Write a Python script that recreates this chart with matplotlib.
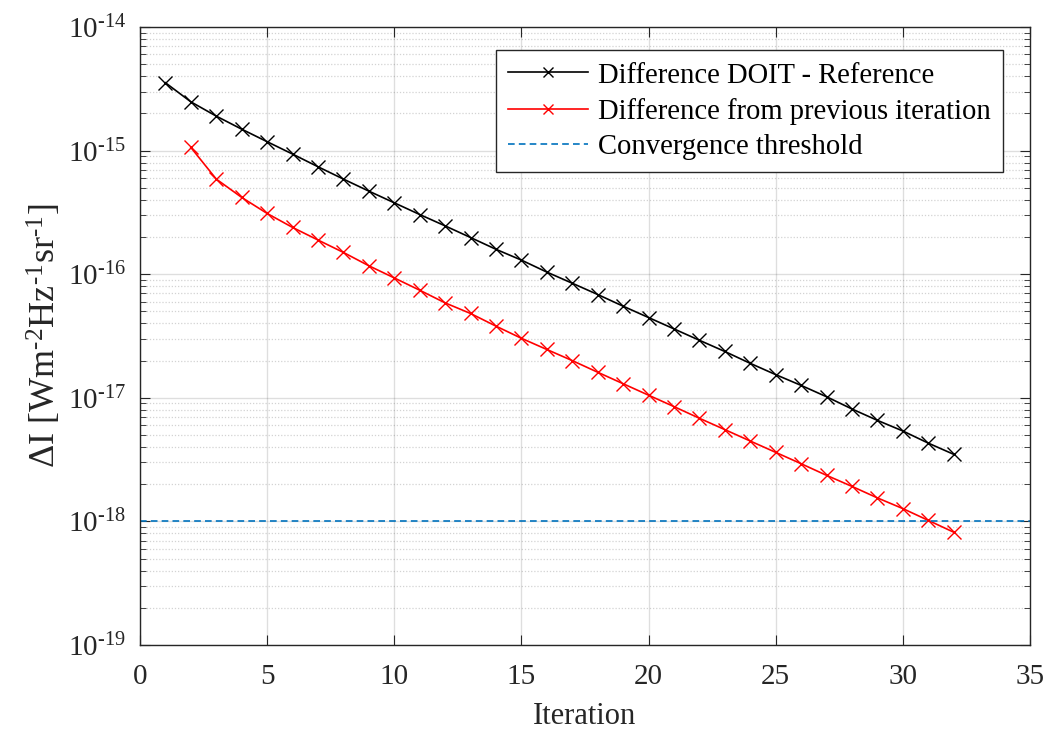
import numpy as np
import matplotlib
matplotlib.use("Agg")
import matplotlib.pyplot as plt
from matplotlib.ticker import LogLocator, MultipleLocator, NullFormatter

plt.rcParams['font.family'] = ['Liberation Serif', 'DejaVu Serif']
plt.rcParams['mathtext.fontset'] = 'custom'
plt.rcParams['mathtext.rm'] = 'Liberation Serif'
plt.rcParams['mathtext.it'] = 'Liberation Serif:italic'
plt.rcParams['mathtext.default'] = 'regular'

# values
iter_ref = list(range(1, 33))
diff_ref = [3.54e-15, 2.48e-15, 1.90e-15, 1.49e-15, 1.18e-15, 9.37e-16, 7.40e-16, 5.88e-16,
            4.70e-16, 3.78e-16, 3.04e-16, 2.46e-16, 1.98e-16, 1.59e-16, 1.30e-16, 1.04e-16,
            8.45e-17, 6.85e-17, 5.51e-17, 4.46e-17, 3.61e-17, 2.92e-17, 2.37e-17, 1.90e-17,
            1.54e-17, 1.26e-17, 1.02e-17, 8.12e-18, 6.57e-18, 5.39e-18, 4.30e-18, 3.49e-18]

iter_prev = list(range(2, 33))
diff_prev = [1.06e-15, 5.88e-16, 4.18e-16, 3.10e-16, 2.39e-16, 1.89e-16, 1.50e-16, 1.17e-16,
             9.33e-17, 7.42e-17, 5.86e-17, 4.81e-17, 3.80e-17, 3.03e-17, 2.46e-17, 2.00e-17,
             1.61e-17, 1.30e-17, 1.05e-17, 8.49e-18, 6.83e-18, 5.53e-18, 4.47e-18, 3.62e-18,
             2.93e-18, 2.36e-18, 1.92e-18, 1.55e-18, 1.27e-18, 1.02e-18, 8.18e-19]

threshold = 1e-18

y_exps = [-19, -18, -17, -16, -15, -14]
HY = '\u2010'  # hyphen, as in the reference exponents

fig = plt.figure(figsize=(10.51, 7.33), dpi=100)
ax = fig.add_axes([0.1332, 0.12, 0.8468, 0.8432])

ax.semilogy(iter_ref, diff_ref, color='black', marker='x', markersize=10, lw=1.2,
            label='Difference DOIT - Reference')
ax.semilogy(iter_prev, diff_prev, color='red', marker='x', markersize=10, lw=1.2,
            label='Difference from previous iteration')
ax.axhline(threshold, color='#0072BD', linestyle='--', lw=1.2, dashes=(4, 2.5),
           label='Convergence threshold')

ax.set_xlim(0, 35)
ax.set_ylim(1e-19, 1e-14)
ax.xaxis.set_major_locator(MultipleLocator(5))
ax.set_yticks([10.0 ** e for e in y_exps])
ax.set_yticklabels([f'$10^{{{HY}{abs(e)}}}$' for e in y_exps])
ax.yaxis.set_minor_locator(LogLocator(base=10, subs=np.arange(2, 10), numticks=20))
ax.yaxis.set_minor_formatter(NullFormatter())

ax.grid(True, which='major', color='#262626', alpha=0.15, lw=1.0, linestyle='-')
ax.grid(True, which='minor', axis='y', color='#262626', alpha=0.2, lw=0.9, linestyle=(0, (1, 1.5)))

ax.tick_params(which='both', direction='in', top=True, right=True, colors='#262626',
               labelcolor='#262626', labelsize=21)
ax.tick_params(which='major', length=7)
ax.tick_params(which='minor', length=4)
ax.tick_params(axis='x', pad=14)
ax.tick_params(axis='y', pad=10)
for s in ax.spines.values():
    s.set_color('#262626')
    s.set_linewidth(1.0)

ax.set_xlabel('Iteration', fontsize=22, color='#262626', labelpad=8)
ax.set_ylabel(f'$\\Delta$I [Wm$^{{{HY}2}}$Hz$^{{{HY}1}}$sr$^{{{HY}1}}$]', fontsize=26,
              color='#262626', labelpad=3)

leg = ax.legend(loc='upper right', bbox_to_anchor=(0.9697, 0.962), fontsize=20.6,
                frameon=True, fancybox=False, edgecolor='#262626', framealpha=1,
                borderaxespad=0, handlelength=2.8, handletextpad=0.35,
                labelspacing=0.33, borderpad=0.42)
leg.get_frame().set_linewidth(1.0)
for h in leg.legend_handles:
    h.set_markersize(7)

fig.savefig('out.png', dpi=100)
